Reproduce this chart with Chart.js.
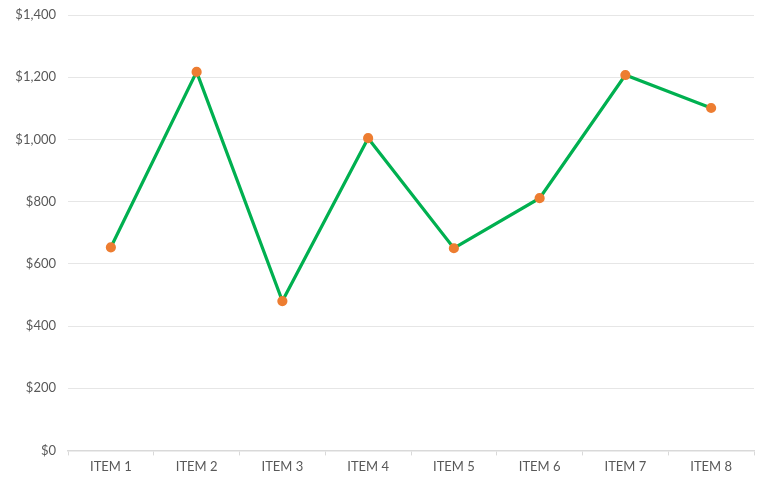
<!DOCTYPE html>
<html lang="en">
<head>
    <meta charset="UTF-8">
    <title>Line Chart</title>
    <script src="https://cdn.jsdelivr.net/npm/chart.js"></script>
    <style>
        html, body { margin: 0; padding: 0; background: #ffffff; }
        .wrap { width: 766px; height: 479px; position: relative; }
    </style>
</head>
<body>
    <div class="wrap"><canvas id="lineChart"></canvas></div>

    <script>
        // chart data
        const categories = ['ITEM 1', 'ITEM 2', 'ITEM 3', 'ITEM 4', 'ITEM 5', 'ITEM 6', 'ITEM 7', 'ITEM 8'];
        const values = [653, 1217, 480, 1004, 650, 811, 1207, 1101];
        const yTicks = [0, 200, 400, 600, 800, 1000, 1200, 1400];

        const textColor = '#595959';
        const fontFamily = 'Lato, "Open Sans", sans-serif';

        new Chart(document.getElementById('lineChart').getContext('2d'), {
            type: 'line',
            data: {
                labels: categories,
                datasets: [{
                    data: values,
                    borderColor: '#00b050',
                    borderWidth: 3.2,
                    pointBackgroundColor: '#ed7d31',
                    pointBorderColor: '#ed7d31',
                    pointRadius: 3.5,
                    tension: 0
                }]
            },
            options: {
                responsive: true,
                maintainAspectRatio: false,
                animation: false,
                layout: { padding: { top: 0, right: 12, left: 0, bottom: 0 } },
                plugins: { legend: { display: false }, tooltip: { enabled: false } },
                scales: {
                    x: {
                        offset: true,
                        grid: {
                            offset: true,
                            drawOnChartArea: false,
                            drawTicks: true,
                            tickLength: 5,
                            color: '#d9d9d9'
                        },
                        border: { color: '#d9d9d9', width: 1.5 },
                        ticks: { color: textColor, font: { family: fontFamily, size: 13 }, padding: 4 }
                    },
                    y: {
                        min: 0,
                        max: 1400,
                        afterBuildTicks: axis => { axis.ticks = yTicks.map(v => ({ value: v })); },
                        afterFit: axis => { axis.width = 68; axis.paddingTop = 15; },
                        grid: { color: '#e6e6e6', drawTicks: false },
                        border: { display: false },
                        ticks: {
                            color: textColor,
                            font: { family: fontFamily, size: 13 },
                            padding: 12,
                            callback: v => '$' + v.toLocaleString('en-US')
                        }
                    }
                }
            }
        });
    </script>
</body>
</html>
